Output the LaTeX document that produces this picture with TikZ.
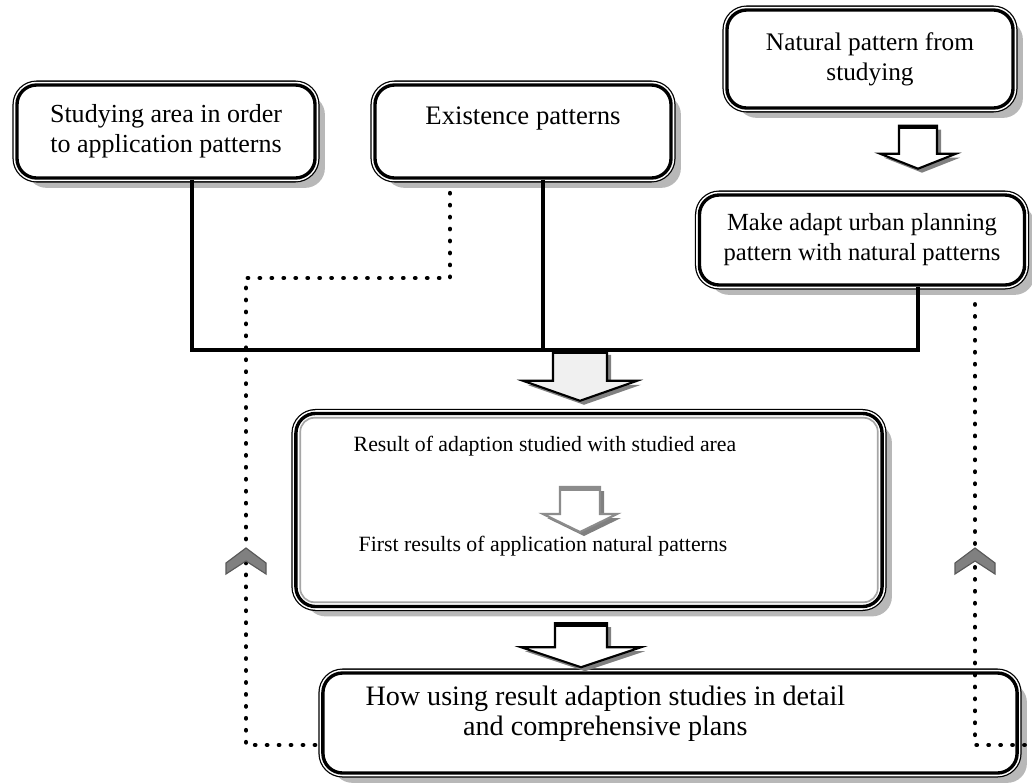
\documentclass[tikz,border=0pt]{standalone}
\usepackage{fontspec}
\setmainfont{Liberation Serif}
\usetikzlibrary{calc,shadows}

\tikzset{
  fbox/.style={rectangle, rounded corners=14pt, fill=white, draw=black, line width=2.4pt,
    inner sep=0pt, align=center,
    drop shadow={shadow xshift=7pt, shadow yshift=-7pt, fill=black!28, opacity=1},
    preaction={draw=black, line width=6.4pt},
    preaction={draw=white, line width=4.6pt}},
  bus/.style={line width=2.6pt},
  dots/.style={line width=3pt, line cap=round, dash pattern=on 0.4pt off 8.1pt},
  % block arrow pointing down: half shaft, half head, shaft length, head length, line, fill
  pics/blockdown/.style n args={6}{code={
    \fill[black!50, shift={(4,4)}] (-#1,0) -- (#1,0) -- (#1,#3) -- (#2,#3) -- (0,#3+#4) -- (-#2,#3) -- (-#1,#3) -- cycle;
    \filldraw[fill=#6, draw=#5, line width=1.5pt, line join=miter] (-#1,0) -- (#1,0) -- (#1,#3) -- (#2,#3) -- (0,#3+#4) -- (-#2,#3) -- (-#1,#3) -- cycle;
    \draw[#5, line width=3pt] (-#1,1.5) -- (#1,1.5);
  }},
  pics/chevron/.style={code={
    \filldraw[fill=black!50, draw=black!65, line width=0.8pt, line join=miter] (0,-14) -- (20,1) -- (20,12) -- (0,-1) -- (-20,12) -- (-20,1) -- cycle;
  }}
}

\begin{document}
\begin{tikzpicture}[x=0.025cm, y=-0.025cm]
  \useasboundingbox (0,0) rectangle (1032,783);

  %boxes
  \node[fbox, minimum width=7.45cm, minimum height=2.325cm, font=\fontsize{18.5}{21.3}\selectfont] (study) at (166,131.5) {Studying area in order\\to application patterns};
  \node[fbox, minimum width=7.4cm, minimum height=2.325cm, font=\fontsize{19}{21.3}\selectfont] (exist) at (523,131.5) {\raisebox{9pt}[\height][\depth]{Existence patterns}};
  \node[fbox, minimum width=7.15cm, minimum height=2.45cm, font=\fontsize{18}{21.3}\selectfont] (natural) at (870,59) {Natural pattern from\\studying};
  \node[fbox, minimum width=8.125cm, minimum height=2.25cm, font=\fontsize{17.5}{21.3}\selectfont] (adapt) at (862,240) {Make adapt urban planning\\pattern with natural patterns};
  \node[fbox, minimum width=14.65cm, minimum height=4.825cm] (result) at (589,510) {};
  \node[fbox, minimum width=17.35cm, minimum height=2.5cm, font=\fontsize{20}{21.3}\selectfont] (howuse) at (670,723) {\raisebox{6pt}[\height][\depth]{\begin{tabular}{@{}c@{}}How using result adaption studies in detail\\and comprehensive plans\end{tabular}}\hspace{92pt}};

  %inner ring of result box
  \draw[black!35, line width=1.2pt, rounded corners=10pt] ($(result.north west)+(6,6)$) rectangle ($(result.south east)+(-6,-6)$);

  %texts in result box
  \node[font=\fontsize{15.5}{18}\selectfont] (resulttop) at (545,446) {Result of adaption studied with studied area};
  \node[font=\fontsize{15.5}{18}\selectfont] (resultbot) at (543,546) {First results of application natural patterns};

  %solid lines
  \draw[bus] ($(study.south)+(26,0)$) |- ($(adapt.south)+(56,63)$) -- ($(adapt.south)+(56,0)$);
  \draw[bus] ($(exist.south)+(20,0)$) -- ++(0,170);

  %block arrows
  \pic at ($(natural.south)+(48,16)$) {blockdown={19}{38}{28}{15}{black}{white}};
  \pic at ($(result.north)+(-9,-61)$) {blockdown={27}{57}{30}{20}{black}{black!6}};
  \pic at ($(result.south)+(-8,15)$) {blockdown={26}{60}{24}{20}{black}{white}};
  \pic at ($(result.center)+(-9,-23)$) {blockdown={20}{37}{27}{18}{black!45}{white}};

  %dotted feedback
  \draw[dots] ($(howuse.west)+(-6,22)$) -| (246,278) -| ($(exist.south)+(-73,8)$);
  \draw[dots] ($(howuse.east)+(6,22)$) -| ($(adapt.south)+(113,8)$);
  \pic at (246,562) {chevron};
  \pic at (975,562) {chevron};
\end{tikzpicture}
\end{document}
